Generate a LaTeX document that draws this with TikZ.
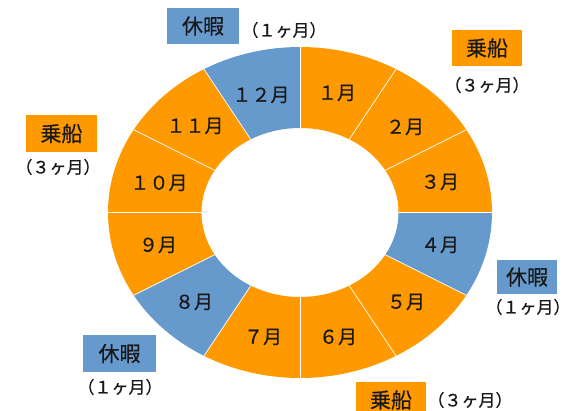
\documentclass[tikz,border=0pt]{standalone}
\usepackage{fontspec}
\setmainfont{Noto Sans CJK JP}[FakeBold=0.6]
\definecolor{shipor}{RGB}{255,153,0}
\definecolor{restbl}{RGB}{102,153,204}
\definecolor{txt}{RGB}{25,25,25}
\tikzset{
  seglabel/.style={text=txt, font=\fontsize{19}{19}\selectfont, inner sep=0pt},
  legbox/.style={inner sep=0pt, text=txt, font=\fontsize{21}{21}\selectfont, anchor=center},
  legnote/.style={inner sep=0pt, text=txt, font=\fontsize{17}{17}\selectfont},
  sepline/.style={white, line width=0.7pt}
}
\begin{document}
\begin{tikzpicture}[x=1pt,y=1pt]
\useasboundingbox (0,0) rectangle (572,410);
\coordinate (C) at (300,197.5);
% ring segments
\foreach \k/\col in {1/shipor,2/shipor,3/shipor,4/restbl,5/shipor,6/shipor,7/shipor,8/restbl,9/shipor,10/shipor,11/shipor,12/restbl}{
  \pgfmathsetmacro{\a}{90-30*(\k-1)}
  \pgfmathsetmacro{\b}{90-30*\k}
  \fill[\col] ([shift={(C)}]\a:192 and 165.5) arc[start angle=\a, end angle=\b, x radius=192, y radius=165.5]
    -- ([shift={(C)}]\b:98.5 and 84.5) arc[start angle=\b, end angle=\a, x radius=98.5, y radius=84.5] -- cycle;
}
\foreach \t in {90,60,30,0,-30,-60,-90,-120,-150,-180,-210,-240}{
  \draw[sepline] ([shift={(C)}]\t:98.5 and 84.5) -- ([shift={(C)}]\t:192 and 165.5);
}
% month labels
\node[seglabel] (m12) at (261,315) {１２月};
\node[seglabel] (m1) at (337,317) {１月};
\node[seglabel] (m2) at (405,283) {２月};
\node[seglabel] (m3) at (440,228) {３月};
\node[seglabel] (m4) at (440,165) {４月};
\node[seglabel] (m5) at (406,108) {５月};
\node[seglabel] (m6) at (338,73) {６月};
\node[seglabel] (m7) at (263,73) {７月};
\node[seglabel] (m8) at (194,108) {８月};
\node[seglabel] (m9) at (158,165) {９月};
\node[seglabel] (m10) at (159,227) {１０月};
\node[seglabel] (m11) at (195,284) {１１月};
% legends
\node[legbox, fill=restbl, minimum width=72pt, minimum height=36pt] (r1) at (203,384) {休暇};
\node[legnote] (r1n) at (284,380) {（１ヶ月）};
\node[legbox, fill=shipor, minimum width=70pt, minimum height=36pt] (s1) at (487,362) {乗船};
\node[legnote] (s1n) at (487,325) {（３ヶ月）};
\node[legbox, fill=restbl, minimum width=60pt, minimum height=34pt] (r2) at (527,133) {休暇};
\node[legnote] (r2n) at (528,103) {（１ヶ月）};
\node[legbox, fill=shipor, minimum width=70pt, minimum height=36pt] (s2) at (391,10) {乗船};
\node[legnote] (s2n) at (470,10) {（３ヶ月）};
\node[legbox, fill=shipor, minimum width=71pt, minimum height=37pt] (s3) at (61.5,276.5) {乗船};
\node[legnote] (s3n) at (58,243) {（３ヶ月）};
\node[legbox, fill=restbl, minimum width=73pt, minimum height=37pt] (r3) at (119.5,56.5) {休暇};
\node[legnote] (r3n) at (120,23) {（１ヶ月）};
\end{tikzpicture}
\end{document}
